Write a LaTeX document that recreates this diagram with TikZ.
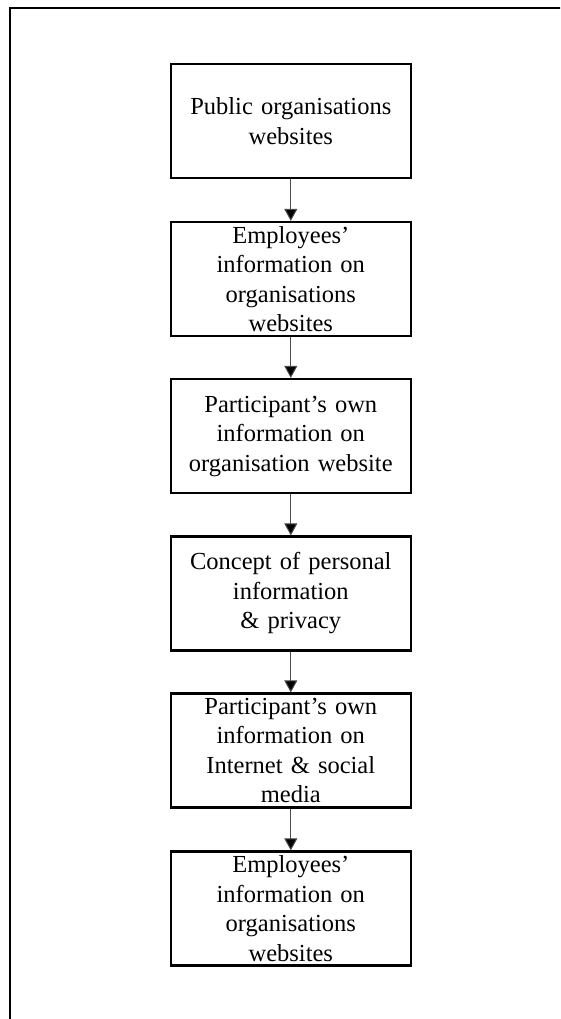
\documentclass[tikz,border=0pt]{standalone}
\usepackage{fontspec}
\setmainfont{Liberation Serif}
\usetikzlibrary{arrows.meta}
\begin{document}
\begin{tikzpicture}[x=1pt,y=-1pt,
  box/.style={draw, line width=2.2pt, minimum width=240pt, minimum height=114pt,
    text width=238pt, align=center, inner sep=0pt, inner ysep=-3pt,
    font=\fontsize{24.5}{29.5}\selectfont},
  arr/.style={draw=black!70, line width=1pt, -{Triangle[width=13pt,length=12pt,fill=black]}}]
\useasboundingbox (0,0) rectangle (560,1019);
\clip (0,0) rectangle (560,1019);
\fill[white] (0,0) rectangle (560,1019);
\draw[line width=2.4pt] (10,1100) -- (10,8) -- (600,8);
\node[box] (b1) at (290.8,121) {Public organisations\\websites};
\node[box] (b2) at (290.8,279) {Employees’\\information on\\organisations\\websites};
\node[box] (b3) at (290.8,436) {Participant’s own\\information on\\organisation website};
\node[box] (b4) at (290.8,593.5) {Concept of personal\\information\\\&~privacy};
\node[box] (b5) at (290.8,750.5) {Participant’s own\\information on\\Internet \& social\\media};
\node[box] (b6) at (290.8,908.5) {Employees’\\information on\\organisations\\websites};
\draw[arr] (b1) -- (b2);
\draw[arr] (b2) -- (b3);
\draw[arr] (b3) -- (b4);
\draw[arr] (b4) -- (b5);
\draw[arr] (b5) -- (b6);
\end{tikzpicture}
\end{document}
